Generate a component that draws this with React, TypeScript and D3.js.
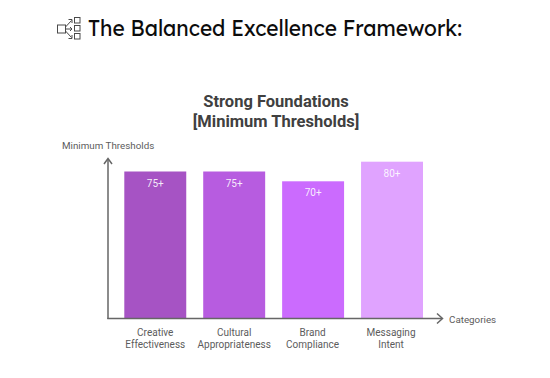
import React from "react";
import * as d3 from "d3";

const categories = ["Creative|Effectiveness", "Cultural|Appropriateness", "Brand|Compliance", "Messaging|Intent"];
const values = [75, 75, 70, 80];
const valueLabels = ["75+", "75+", "70+", "80+"];
const colors = ["#a653c4", "#b75ce0", "#cb6bfe", "#e0a3ff"];
const headerText = "The Balanced Excellence Framework:";
const titleLines = ["Strong Foundations", "[Minimum Thresholds]"];

export default function App() {
  const x = d3.scaleBand<number>().domain(d3.range(values.length)).range([124.3, 423]).paddingInner(0.215).paddingOuter(0);
  const y = d3.scaleLinear().domain([0, 100]).range([318.5, 122.5]);
  return (
    <svg width={550} height={378} style={{ position: "absolute", left: 0, top: 0, background: "#fff" }}>
      <g fill="none" stroke="#4a4a4a" strokeWidth={1}>
        <rect x={57.5} y={25} width={8} height={8} />
        <rect x={74.5} y={17.5} width={5.5} height={5.5} />
        <rect x={74.5} y={25.5} width={5.5} height={5.5} />
        <rect x={74.5} y={33.5} width={5.5} height={5.5} />
        <path d="M65.5 27 L71.5 20.5 M68.5 19.5 L72 19.5 L72 23 M65.5 29 H72 M70 27 L72 29 L70 31 M65.5 31 L71.5 37.5 M68.5 38.5 L72 38.5 L72 35" />
      </g>
      <text x={88} y={36} fontFamily="Lexend, Inter, sans-serif" fontSize={21.5} fontWeight={400} fill="#0c0c0c" textLength={374} lengthAdjust="spacingAndGlyphs">{headerText}</text>
      {titleLines.map((t, i) => (
        <text key={t} x={276} y={106.5 + i * 20} textAnchor="middle" fontFamily="Roboto, sans-serif" fontSize={16.5} fontWeight={700} fill="#404040">{t}</text>
      ))}
      <text x={62} y={149} fontFamily="Roboto, sans-serif" fontSize={9.8} fill="#5c5c5c">Minimum Thresholds</text>
      {values.map((v, i) => (
        <g key={i}>
          <rect x={x(i)} y={y(v)} width={x.bandwidth()} height={y(0) - y(v)} fill={colors[i]} />
          <text x={x(i)! + x.bandwidth() / 2} y={y(v) + 15} textAnchor="middle" fontFamily="Roboto, sans-serif" fontSize={10} fill="#fff" fillOpacity={0.9}>{valueLabels[i]}</text>
          {categories[i].split("|").map((l, j) => (
            <text key={l} x={x(i)! + x.bandwidth() / 2 + (i === 3 ? -1 : i === 2 ? -0.5 : 0)} y={336 + j * 12} textAnchor="middle" fontFamily="Roboto, sans-serif" fontSize={10} fill="#5c5c5c">{l}</text>
          ))}
        </g>
      ))}
      <g fill="none" stroke="#666" strokeWidth={1.5}>
        <path d="M108 319 V159" />
        <path d="M104 164 L108 158.5 L112 164" />
        <path d="M107.3 318.5 H442" />
        <path d="M437 313.5 L442.5 318.5 L437 323.5" />
      </g>
      <text x={449} y={323} fontFamily="Roboto, sans-serif" fontSize={9.8} fill="#5c5c5c">Categories</text>
    </svg>
  );
}
